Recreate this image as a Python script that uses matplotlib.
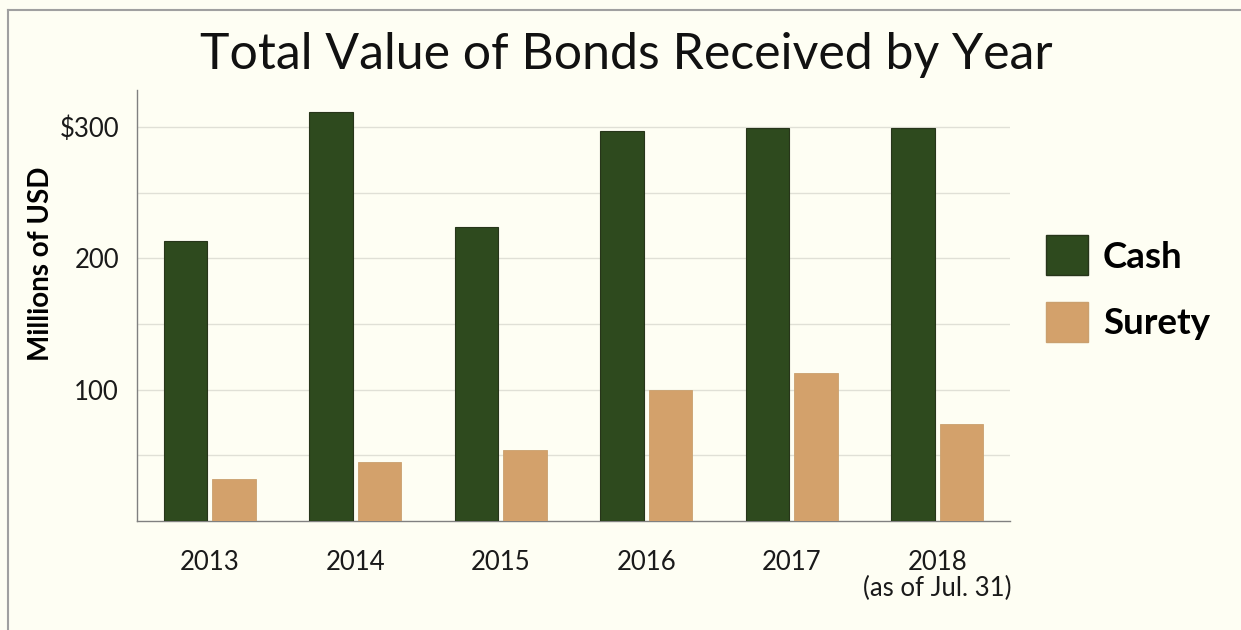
import numpy as np
import matplotlib
matplotlib.use("Agg")
import matplotlib.pyplot as plt
from matplotlib.lines import Line2D
from matplotlib.patches import Patch

years = ["2013", "2014", "2015", "2016", "2017", "2018\n(as of Jul. 31)"]
cash = [213, 311, 224, 297, 299, 299]
surety = [32, 45, 54, 100, 113, 74]
yticks = [100, 200, 300]
ytick_labels = ["100", "200", "$300"]

CASH, SURETY = "#2e4a1e", "#d3a16b"
BG = "#fefef3"

plt.rcParams["font.family"] = ["Lato", "DejaVu Sans"]

fig = plt.figure(figsize=(12.41, 6.30), dpi=100, facecolor=BG)
ax = fig.add_axes([0.1104, 0.173, 0.7035, 0.684], facecolor=BG)

x = np.arange(len(years))
w = 0.30
ax.bar(x - 0.167, cash, w, color=CASH, edgecolor="#27351a", lw=0.8, zorder=3)
ax.bar(x + 0.167, surety, w, color=SURETY, edgecolor="#caa06e", lw=0.6, zorder=3)

ax.set_xlim(-0.5, len(years) - 0.5)
ax.set_ylim(0, 328)
ax.set_yticks(yticks)
ax.set_yticklabels(ytick_labels, fontsize=18.5, color="#1a1a1a")
ax.set_yticks(np.arange(50, 301, 50), minor=True)
ax.grid(axis="y", which="both", color="#e0e0d6", lw=1.0, zorder=0)
ax.tick_params(axis="y", which="both", length=0, pad=13)
ax.set_xticks(x)
ax.set_xticklabels(years, fontsize=18.5, color="#1a1a1a", linespacing=1.05)
ax.tick_params(axis="x", length=0, pad=21)

for s in ("top", "right"):
    ax.spines[s].set_visible(False)
for s in ("left", "bottom"):
    ax.spines[s].set_color("#808080")
    ax.spines[s].set_linewidth(1.0)

ax.set_ylabel("Millions of USD", fontsize=20, fontweight="bold")
ax.yaxis.set_label_coords(-0.095, 0.596)

fig.text(0.505, 0.89, "Total Value of Bonds Received by Year", fontsize=36,
         ha="center", va="baseline", color="#111111")

handles = [Patch(facecolor=CASH, edgecolor="#27351a"),
           Patch(facecolor=SURETY, edgecolor="#caa06e")]
fig.legend(handles, ["Cash", "Surety"], loc="center left",
           bbox_to_anchor=(0.816, 0.542), frameon=False,
           prop={"size": 26.5, "weight": "bold"},
           handlelength=1.15, handleheight=1.3, handletextpad=0.4,
           labelspacing=0.72)

# thin frame along the top and left edges
fig.add_artist(Line2D([0.0065, 1.0], [0.984, 0.984], color="#a0a0a0", lw=1.5))
fig.add_artist(Line2D([0.0065, 0.0065], [0.0, 0.984], color="#a0a0a0", lw=1.5))

fig.savefig("out.png", dpi=100, facecolor=BG)
